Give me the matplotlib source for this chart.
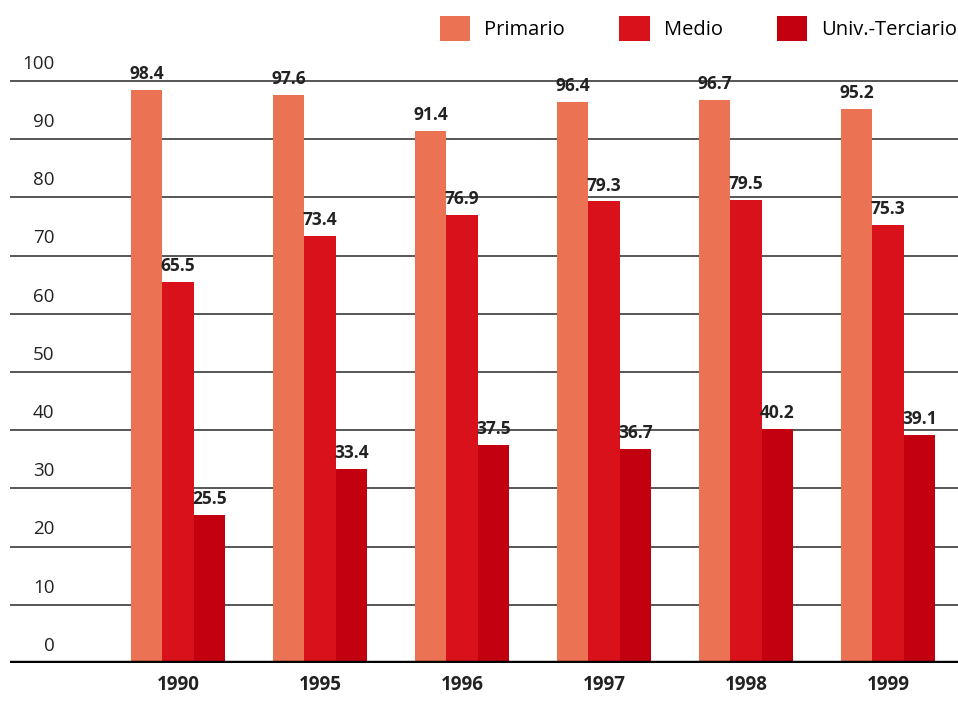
import numpy as np
import matplotlib
matplotlib.use("Agg")
import matplotlib.pyplot as plt
import matplotlib.transforms as mtransforms

plt.rcParams['font.family'] = ['Open Sans', 'DejaVu Sans']

# datos
anios = ["1990", "1995", "1996", "1997", "1998", "1999"]
series = ["Primario", "Medio", "Univ.-Terciario"]
primario = [98.4, 97.6, 91.4, 96.4, 96.7, 95.2]
medio = [65.5, 73.4, 76.9, 79.3, 79.5, 75.3]
univ = [25.5, 33.4, 37.5, 36.7, 40.2, 39.1]
colores = ["#EC7254", "#D8111B", "#C2000F"]
yticks = list(range(0, 101, 10))

fig = plt.figure(figsize=(9.58, 7.03), dpi=100)
ax = fig.add_axes([10 / 958, 40 / 703, 948 / 958, 663 / 703])

x = np.arange(len(anios))
ancho = 0.222
valores = [primario, medio, univ]
for k, (vals, col, nom) in enumerate(zip(valores, colores, series)):
    pos = x + (k - 1) * ancho
    ax.bar(pos, vals, width=ancho, color=col, label=nom, zorder=3)
    for xi, v in zip(pos, vals):
        ax.annotate(f"{v:.1f}", (xi, v), xytext=(0, 5), textcoords="offset points",
                    ha="center", va="bottom", fontsize=12.5, fontweight="bold",
                    color="#222222", zorder=4)

ax.set_xlim(-1.183, 5.493)
ax.set_ylim(0, 663 / 5.82)

# lineas de la grilla
for t in yticks:
    ax.axhline(t, color="#3a3a3a" if t else "black", lw=1.2 if t else 3.2, zorder=2 if t else 5)

# etiquetas del eje y sobre cada linea
trans = mtransforms.blended_transform_factory(ax.transAxes, ax.transData)
for t in yticks:
    ax.text(0.047, t + 1.4, str(t), transform=trans, ha="right", va="bottom",
            fontsize=13.5, color="#222222")

ax.set_xticks([])
ax.set_yticks([])
for s in ax.spines.values():
    s.set_visible(False)

for xi, a in zip(x, anios):
    ax.text(xi, -2.0, a, ha="center", va="top", fontsize=13.5, fontweight="bold",
            color="#222222")

leg = ax.legend(loc="upper left", bbox_to_anchor=(440 / 958, 1 - 16 / 703),
                bbox_transform=fig.transFigure, ncol=3, frameon=False,
                fontsize=14.5, handlelength=1.5, handleheight=1.5,
                handletextpad=0.7, columnspacing=2.7, borderaxespad=0,
                borderpad=0)

fig.savefig("out.png", dpi=100)
